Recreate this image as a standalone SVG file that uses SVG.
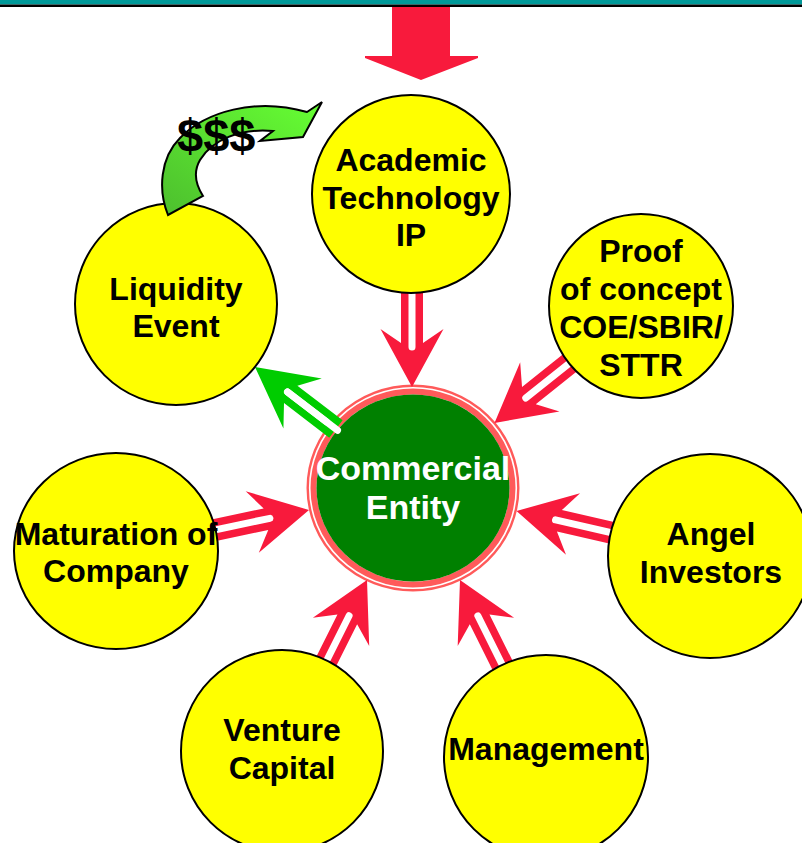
<svg xmlns="http://www.w3.org/2000/svg" xmlns:xlink="http://www.w3.org/1999/xlink" width="802" height="843" viewBox="0 0 802 843">
<style>
  .node { fill: #FFFF00; stroke: #000; stroke-width: 2; }
  .lbl { font-family: "Liberation Sans", Arial, sans-serif; font-weight: bold; font-size: 32px; fill: #000; text-anchor: middle; }
  .clbl { font-family: "Liberation Sans", Arial, sans-serif; font-weight: bold; font-size: 34px; fill: #FFF; text-anchor: middle; }
  .money { font-family: "Liberation Sans", Arial, sans-serif; font-weight: bold; font-size: 47px; fill: #000; }
  .red { fill: #F81A3C; }
  .grn { fill: #00CC00; }
  .gap { stroke: #FFF; stroke-width: 7; stroke-linecap: round; fill: none; }
</style>
<defs>
  <g id="redArrow">
    <path class="red" d="M0,0 L-58,-31.5 L-44,-11 L-150,-11 L-150,11 L-44,11 L-58,31.5 Z"/>
    <line class="gap" x1="-160" y1="0" x2="-40" y2="0"/>
  </g>
  <g id="greenArrow">
    <path class="grn" d="M0,0 L-60,-31.5 L-45,-11 L-102,-11 L-102,11 L-45,11 L-60,31.5 Z"/>
    <line class="gap" x1="-104" y1="0" x2="-41" y2="0" stroke-linecap="butt"/>
    <line class="gap" x1="-90" y1="0" x2="-41" y2="0"/>
  </g>
  <linearGradient id="moneyGrad" x1="0" y1="1" x2="1" y2="0">
    <stop offset="0" stop-color="#4DBF2E"/>
    <stop offset="1" stop-color="#66FF33"/>
  </linearGradient>
</defs>

<rect x="0" y="0" width="802" height="843" fill="#FFFFFF"/>
<g id="topbar">
  <rect x="0" y="0" width="802" height="4.5" fill="#009999"/>
  <rect x="0" y="4.5" width="802" height="2.5" fill="#000"/>
</g>

<g id="commercial-entity">
  <ellipse cx="413" cy="488" rx="101.5" ry="98.5" fill="none" stroke="#FF5A5A" stroke-width="10"/>
  <ellipse cx="413" cy="488" rx="103.3" ry="100.3" fill="none" stroke="#FFF" stroke-width="1.6"/>
  <ellipse cx="413" cy="488" rx="96.5" ry="93.5" fill="#008000"/>
</g>

<g id="connectors">
  <polygon id="top-arrow" class="red" points="392,7 450,7 450,56 478,56 478,58 421,80 365,58 365,56 392,56"/>
  <use xlink:href="#redArrow" transform="translate(412,387) rotate(90)"/>
  <use xlink:href="#redArrow" transform="translate(494.5,423) rotate(141.4)"/>
  <use xlink:href="#redArrow" transform="translate(309,510) rotate(-12)"/>
  <use xlink:href="#redArrow" transform="translate(516.5,511) rotate(192.9)"/>
  <use xlink:href="#redArrow" transform="translate(367,580) rotate(-63.4)"/>
  <use xlink:href="#redArrow" transform="translate(460,580) rotate(-116.5)"/>
  <use xlink:href="#greenArrow" transform="translate(255,367) rotate(217.5)"/>
</g>

<g id="commercial-entity-label">
  <text class="clbl" x="413" y="480">Commercial</text>
  <text class="clbl" x="413" y="519">Entity</text>
</g>

<g id="academic">
  <circle class="node" cx="411" cy="194" r="99"/>
  <text class="lbl" x="411" y="171">Academic</text>
  <text class="lbl" x="411" y="209">Technology</text>
  <text class="lbl" x="411" y="246">IP</text>
</g>
<g id="proof">
  <circle class="node" cx="641" cy="306" r="92"/>
  <text class="lbl" x="641" y="262">Proof</text>
  <text class="lbl" x="641" y="300">of concept</text>
  <text class="lbl" x="641" y="338">COE/SBIR/</text>
  <text class="lbl" x="641" y="376">STTR</text>
</g>
<g id="liquidity">
  <circle class="node" cx="176" cy="304" r="101"/>
  <text class="lbl" x="176" y="300">Liquidity</text>
  <text class="lbl" x="176" y="337">Event</text>
</g>
<g id="maturation">
  <ellipse class="node" cx="116" cy="551" rx="102" ry="98"/>
  <text class="lbl" x="116" y="545">Maturation of</text>
  <text class="lbl" x="116" y="582">Company</text>
</g>
<g id="angel">
  <circle class="node" cx="710" cy="556" r="102"/>
  <text class="lbl" x="711" y="545">Angel</text>
  <text class="lbl" x="711" y="583">Investors</text>
</g>
<g id="venture">
  <circle class="node" cx="282" cy="751" r="101"/>
  <text class="lbl" x="282" y="741">Venture</text>
  <text class="lbl" x="282" y="779">Capital</text>
</g>
<g id="management">
  <circle class="node" cx="546" cy="757" r="102"/>
  <text class="lbl" x="546" y="760">Management</text>
</g>

<g id="money-flow">
  <path d="M168,215 C158,190 160,158 180,138 C205,112 255,97 307,112 L322,102 L303,137 L260,141 L273,131 C240,128 212,140 200,160 C193,172 196,185 203,196 Z" fill="url(#moneyGrad)" stroke="#000" stroke-width="2" stroke-linejoin="miter"/>
  <text class="money" x="177" y="152">$$$</text>
</g>
</svg>
